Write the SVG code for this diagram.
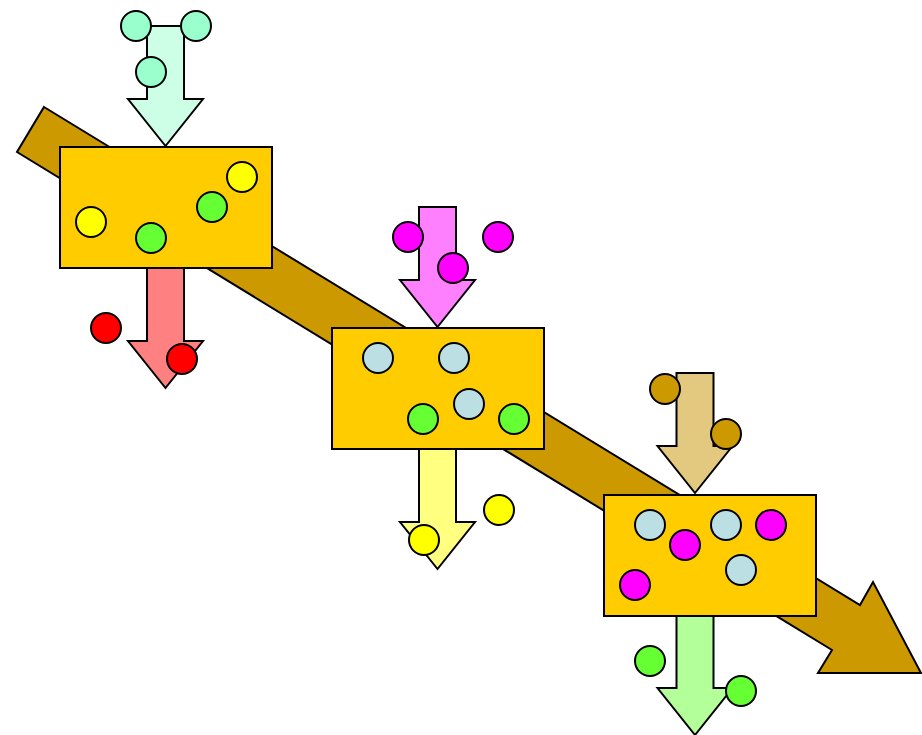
<svg xmlns="http://www.w3.org/2000/svg" width="922" height="735" viewBox="0 0 922 735">
<style>
.s{stroke:#000;stroke-width:2;stroke-linejoin:miter}
.box{fill:#FFCC00}
.c{stroke:#000;stroke-width:2}
.mint{fill:#99FFCC}.red{fill:#FF0000}.yel{fill:#FFFF00}.grn{fill:#66FF33}.mag{fill:#FF00FF}.lb{fill:#BBDFE2}.tan{fill:#CC9900}
</style>
<defs>
<path id="dn" d="M-18.5,0 H18.5 V73 H37.5 L0,120 L-37.5,73 H-18.5 Z"/>
</defs>
<g id="connectors">
<polygon class="s" fill="#CC9900" points="44,107 860,605 873,582 921,673 818,673 832,650 17,152"/>
<use href="#dn" class="s" fill="#CCFFE6" x="165.5" y="26"/>
<use href="#dn" class="s" fill="#FF8080" x="165.5" y="268"/>
<use href="#dn" class="s" fill="#FF80FF" x="437.5" y="207"/>
<use href="#dn" class="s" fill="#FFFF80" x="437.5" y="449"/>
<use href="#dn" class="s" fill="#E3C880" x="695" y="373"/>
<use href="#dn" class="s" fill="#B3FF99" x="695" y="615"/>
</g>
<g id="node1">
<rect class="s box" x="60" y="147" width="212" height="121"/>
<circle class="c yel" cx="91" cy="222" r="15"/>
<circle class="c yel" cx="242" cy="177" r="15"/>
<circle class="c grn" cx="151" cy="238" r="15"/>
<circle class="c grn" cx="212" cy="207" r="15"/>
</g>
<g id="node2">
<rect class="s box" x="332" y="328" width="212" height="121"/>
<circle class="c lb" cx="378" cy="358" r="15"/>
<circle class="c lb" cx="454" cy="358" r="15"/>
<circle class="c lb" cx="469" cy="404" r="15"/>
<circle class="c grn" cx="423" cy="419" r="15"/>
<circle class="c grn" cx="514" cy="419" r="15"/>
</g>
<g id="node3">
<rect class="s box" x="604" y="495" width="212" height="121"/>
<circle class="c lb" cx="650" cy="525" r="15"/>
<circle class="c lb" cx="726" cy="525" r="15"/>
<circle class="c lb" cx="741" cy="570" r="15"/>
<circle class="c mag" cx="685" cy="545" r="15"/>
<circle class="c mag" cx="771" cy="525" r="15"/>
<circle class="c mag" cx="635" cy="585" r="15"/>
</g>
<g id="inputs-outputs">
<circle class="c mint" cx="136" cy="26" r="15"/>
<circle class="c mint" cx="196" cy="26" r="15"/>
<circle class="c mint" cx="151" cy="72" r="15"/>
<circle class="c red" cx="106" cy="328" r="15"/>
<circle class="c red" cx="182" cy="359" r="15"/>
<circle class="c mag" cx="408" cy="237" r="15"/>
<circle class="c mag" cx="498" cy="237" r="15"/>
<circle class="c mag" cx="453" cy="268" r="15"/>
<circle class="c yel" cx="499" cy="510" r="15"/>
<circle class="c yel" cx="424" cy="540" r="15"/>
<circle class="c tan" cx="665" cy="389" r="15"/>
<circle class="c tan" cx="726" cy="434" r="15"/>
<circle class="c grn" cx="650" cy="661" r="15"/>
<circle class="c grn" cx="741" cy="691" r="15"/>
</g>
</svg>
